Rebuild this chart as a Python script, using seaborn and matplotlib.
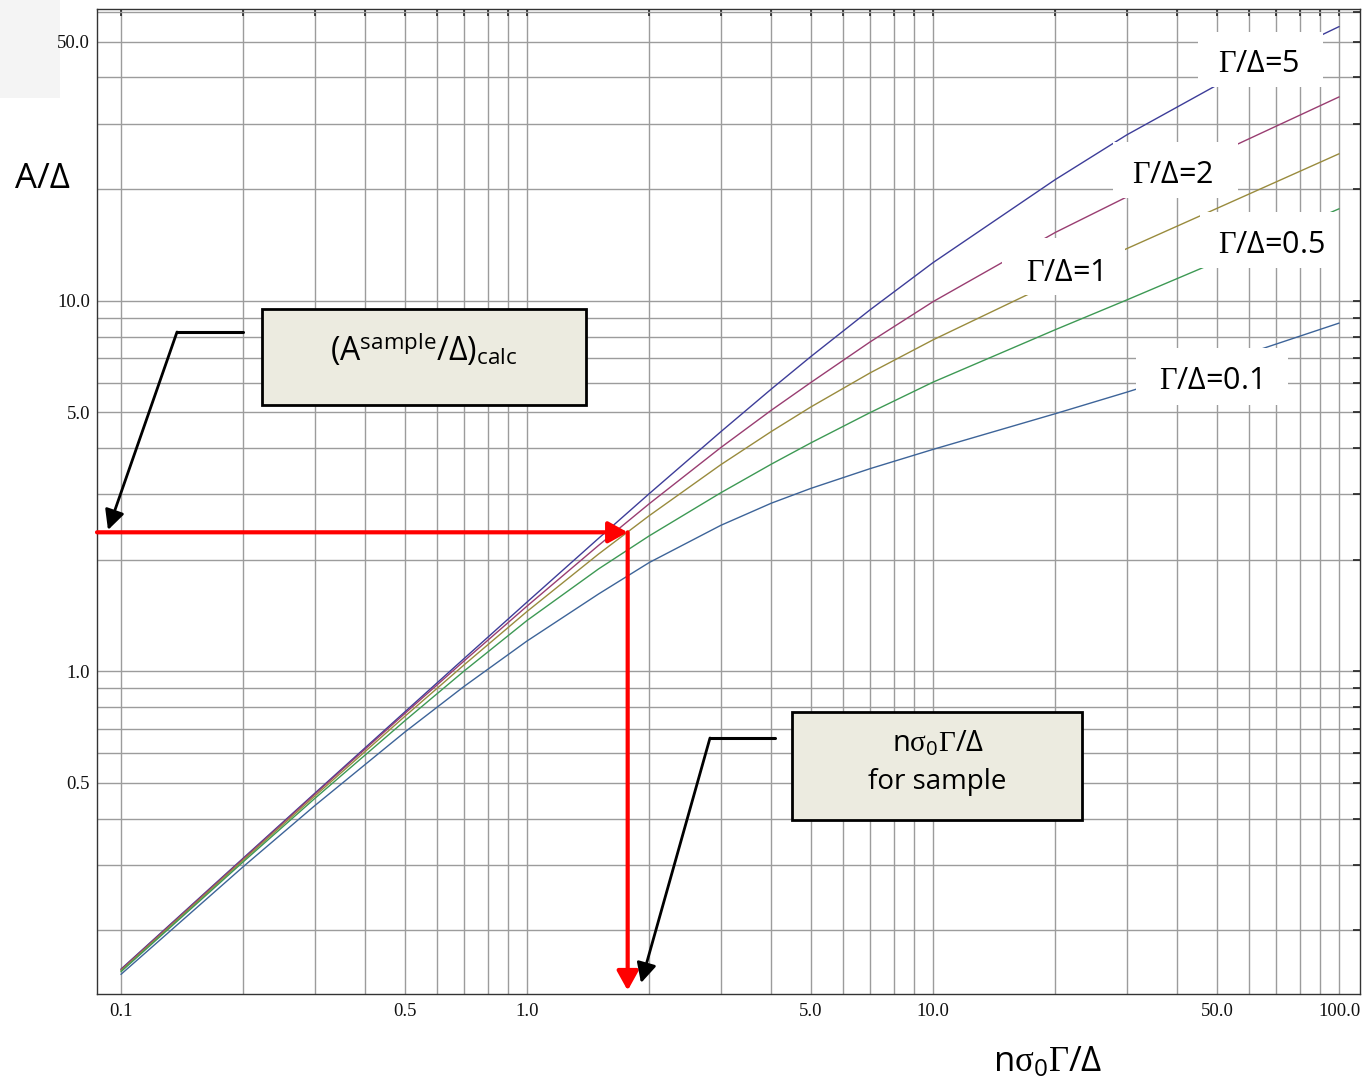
import numpy as np
import pandas as pd
import matplotlib
matplotlib.use("Agg")
import matplotlib.pyplot as plt
import seaborn as sns
from matplotlib.patches import Rectangle
from matplotlib.lines import Line2D
from matplotlib.ticker import FixedLocator, FuncFormatter, NullLocator

# ---------------- data ----------------
n_sigma = [0.1, 0.2, 0.3, 0.5, 0.7, 1.0, 1.5, 2.0, 3.0, 4.0, 5.0, 7.0,
           10.0, 20.0, 30.0, 50.0, 100.0]
a_ratio_5 = [0.157, 0.3129, 0.468, 0.7761, 1.0818, 1.536, 2.282, 3.013, 4.425,
             5.776, 7.061, 9.446, 12.66, 21.21, 28.00, 38.14, 54.87]
a_ratio_2 = [0.1565, 0.3114, 0.4653, 0.7684, 1.0657, 1.498, 2.184, 2.830,
             4.011, 5.063, 6.011, 7.737, 9.933, 15.27, 19.04, 24.90, 35.45]
a_ratio_1 = [0.1555, 0.3089, 0.4599, 0.7549, 1.0399, 1.4489, 2.070, 2.628,
             3.606, 4.436, 5.163, 6.382, 7.835, 11.27, 13.81, 17.73, 24.90]
a_ratio_05 = [0.1545, 0.3058, 0.4532, 0.7344, 1.0009, 1.370, 1.887, 2.318,
              3.029, 3.621, 4.130, 4.987, 6.025, 8.345, 10.04, 12.73, 17.69]
a_ratio_01 = [0.152, 0.2967, 0.4334, 0.6847, 0.9098, 1.206, 1.615, 1.964,
              2.474, 2.841, 3.113, 3.520, 3.967, 4.952, 5.661, 6.752, 8.695]

ratios = ["5", "2", "1", "0.5", "0.1"]
curve_values = [a_ratio_5, a_ratio_2, a_ratio_1, a_ratio_05, a_ratio_01]
curve_colors = ["#3d3d99", "#993d71", "#998b3d", "#3d9954", "#3d6499"]
curve_labels = ["Γ/Δ=5", "Γ/Δ=2", "Γ/Δ=1", "Γ/Δ=0.5", "Γ/Δ=0.1"]

x_ticks_labeled = [0.1, 0.5, 1.0, 5.0, 10.0, 50.0, 100.0]
y_ticks_labeled = [0.5, 1.0, 5.0, 10.0, 50.0]
x_limits = (0.0873, 112.6)
y_limits = (0.1348, 61.1)

sample_x = 1.77   # n sigma0 Gamma/Delta for sample
sample_a = 2.37   # (A_sample/Delta)_calc

# ---------------- style ----------------
sns.set_theme(style="white")
plt.rcParams['font.family'] = ['Open Sans', 'DejaVu Sans']
plt.rcParams['text.color'] = 'black'
plt.rcParams['mathtext.fontset'] = 'custom'
plt.rcParams['mathtext.rm'] = 'Liberation Serif'
plt.rcParams['mathtext.it'] = 'Liberation Serif:italic'
plt.rcParams['mathtext.bf'] = 'Liberation Serif:bold'
plt.rcParams['mathtext.sf'] = 'Open Sans'

W, H = 1362, 1083
fig = plt.figure(figsize=(W / 100, H / 100), dpi=100)
fig.patch.set_facecolor("white")
L, R, T, B = 97.0, 1360.0, 9.3, 993.7
ax = fig.add_axes([L / W, 1 - B / H, (R - L) / W, (B - T) / H])


def P(px, py):
    """pixel position in the picture -> axes fraction"""
    return ((px - L) / (R - L), (B - py) / (B - T))


# faint grey patch top-left
fig.patches.append(Rectangle((0, 1 - 98 / H), 60 / W, 98 / H,
                             transform=fig.transFigure, facecolor="#f4f4f4",
                             edgecolor="none", zorder=-5))

# ---------------- curves ----------------
rows = []
for r, vals in zip(ratios, curve_values):
    for xv, yv in zip(n_sigma, vals):
        rows.append({"x": xv, "a": yv, "ratio": r})
df = pd.DataFrame(rows)

sns.lineplot(data=df, x="x", y="a", hue="ratio", hue_order=ratios,
             palette=dict(zip(ratios, curve_colors)), legend=False,
             lw=1.0, ax=ax, estimator=None, zorder=3)

ax.set_xscale("log")
ax.set_yscale("log")
ax.set_xlim(*x_limits)
ax.set_ylim(*y_limits)
ax.set_xlabel("")
ax.set_ylabel("")

xg = [m * 10.0 ** e for e in range(-1, 3) for m in range(1, 10)]
xg = [v for v in xg if x_limits[0] <= v <= x_limits[1]]
yg = [m * 10.0 ** e for e in range(-1, 2) for m in range(1, 10)]
yg = [v for v in yg if y_limits[0] <= v <= y_limits[1]]


def make_fmt(labeled):
    def f(v, pos):
        for t in labeled:
            if abs(v - t) / t < 1e-6:
                return f"{t:.1f}"
        return ""
    return FuncFormatter(f)


ax.xaxis.set_major_locator(FixedLocator(xg))
ax.xaxis.set_minor_locator(NullLocator())
ax.xaxis.set_major_formatter(make_fmt(x_ticks_labeled))
ax.yaxis.set_major_locator(FixedLocator(yg))
ax.yaxis.set_minor_locator(NullLocator())
ax.yaxis.set_major_formatter(make_fmt(y_ticks_labeled))

ax.set_axisbelow(True)
ax.grid(True, which="major", color="#9c9c9c", lw=1.0)
ax.tick_params(which="both", direction="in", length=5, width=1.2,
               color="#222222", top=True, right=True, labelsize=13.5,
               labelcolor="#111111", labelfontfamily="Liberation Serif")
ax.tick_params(axis="x", pad=7)
ax.tick_params(axis="y", pad=5)
for s in ax.spines.values():
    s.set_color("#333333")
    s.set_linewidth(1.0)

# ---------------- red read-off arrows ----------------
red_style = "-|>,head_length=0.45,head_width=0.25"
ax.annotate("", xy=(sample_x, sample_a), xytext=(x_limits[0], sample_a),
            arrowprops=dict(arrowstyle=red_style, color="red", lw=3,
                            mutation_scale=26, shrinkA=0, shrinkB=0),
            zorder=6)
ax.annotate("", xy=(sample_x, y_limits[0] * 1.02), xytext=(sample_x, sample_a),
            arrowprops=dict(arrowstyle=red_style, color="red", lw=3,
                            mutation_scale=26, shrinkA=0, shrinkB=0),
            zorder=6)

# ---------------- callout boxes ----------------
box_fc = "#ecebe0"


def box(px0, py0, px1, py1):
    x0, y0 = P(px0, py1)
    x1, y1 = P(px1, py0)
    ax.add_patch(Rectangle((x0, y0), x1 - x0, y1 - y0, transform=ax.transAxes,
                           facecolor=box_fc, edgecolor="black", lw=2.0,
                           zorder=8, clip_on=False))


def callout(p_start, p_elbow, p_tip):
    (xs, ys), (xe, ye), (xt, yt) = P(*p_start), P(*p_elbow), P(*p_tip)
    ax.add_line(Line2D([xs, xe], [ys, ye], transform=ax.transAxes,
                       color="black", lw=2.2, zorder=8, clip_on=False))
    ax.annotate("", xy=(xt, yt), xytext=(xe, ye), xycoords="axes fraction",
                textcoords="axes fraction",
                arrowprops=dict(arrowstyle="-|>,head_length=0.5,head_width=0.25",
                                color="black", lw=2.0, mutation_scale=24,
                                shrinkA=0, shrinkB=0), zorder=8)


box(262, 309, 586, 405)
ax.text(*P(424, 360), r"(A$^{\mathsf{sample}}$/Δ)$_{\mathsf{calc}}$",
        transform=ax.transAxes, ha="center", va="baseline", fontsize=23,
        color="black", zorder=9)
callout((243, 332), (177, 332), (108, 530))

box(792, 712, 1082, 820)
ax.text(*P(938, 752), r"n$\mathrm{\sigma}_{\mathsf{0}}\Gamma$/Δ",
        transform=ax.transAxes, ha="center", va="baseline", fontsize=21,
        color="black", zorder=9)
ax.text(*P(937, 789), "for sample", transform=ax.transAxes, ha="center",
        va="baseline", fontsize=20, color="black", zorder=9)
callout((775, 738), (710, 738), (641, 983))

# ---------------- curve labels with white backgrounds ----------------
label_boxes = [(1198, 32, 1323, 87), (1113, 142, 1238, 198),
               (1002, 238, 1125, 295), (1200, 212, 1337, 268),
               (1136, 348, 1288, 405)]
label_anchor = [(1259, 72), (1173, 183), (1064, 281), (1272, 253), (1210, 389)]
for text, (bx0, by0, bx1, by1), (tx, ty) in zip(curve_labels, label_boxes,
                                                label_anchor):
    x0, y0 = P(bx0, by1)
    x1, y1 = P(bx1, by0)
    ax.add_patch(Rectangle((x0, y0), x1 - x0, y1 - y0, transform=ax.transAxes,
                           facecolor="white", edgecolor="none", zorder=4))
    ax.text(*P(tx, ty), text.replace("Γ", r"$\Gamma$"), transform=ax.transAxes,
            ha="center", va="baseline", fontsize=22, color="black", zorder=5)

# ---------------- axis labels ----------------
fig.text(42 / W, 1 - 188 / H, "A/Δ", ha="center", va="baseline", fontsize=25,
         color="black")
fig.text(1048 / W, 1 - 1072 / H, r"n$\mathrm{\sigma}_{\mathsf{0}}\Gamma$/Δ",
         ha="center", va="baseline", fontsize=25, color="black")

fig.savefig("out.png", dpi=100)
